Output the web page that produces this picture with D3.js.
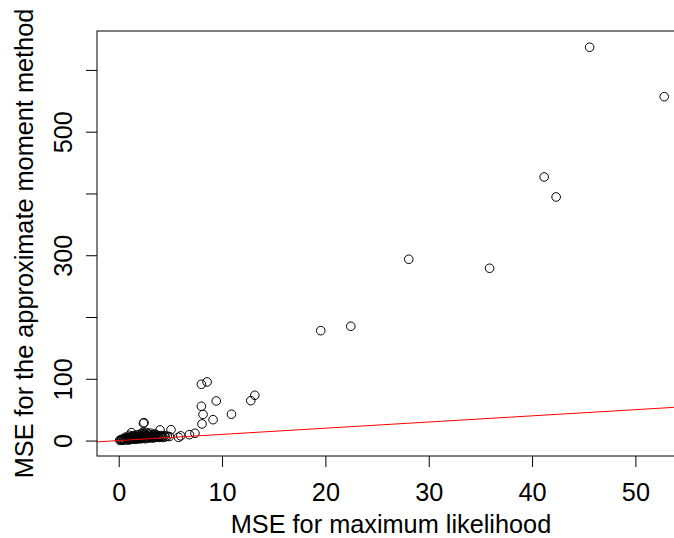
<!DOCTYPE html>
<html>
<head>
<meta charset="utf-8">
<script src="https://cdn.jsdelivr.net/npm/d3@7"></script>
<style>
  html, body { margin: 0; padding: 0; background: #fff; }
  svg { display: block; }
  text { font-family: "Liberation Sans", Arial, Helvetica, sans-serif; }
</style>
</head>
<body>
<div id="chart"></div>
<script>
// ---- data ----
const mleMSE = [
  45.57, 52.79, 41.17, 42.33, 28.07, 35.89, 22.46, 19.55,
  13.17, 12.78, 8.55, 8.00, 9.44, 8.00, 8.16, 9.13, 10.91, 8.06,
  7.38, 6.84, 5.78, 5.06, 4.00, 2.39, 2.45, 1.23, 6.00,
  0.10, 0.20, 0.30, 0.30, 0.40, 0.50, 0.50, 0.60, 0.70, 0.70,
  0.80, 0.90, 0.90, 1.00, 1.00, 1.10, 1.10, 1.20, 1.30, 1.30,
  1.40, 1.40, 1.50, 1.50, 1.60, 1.60, 1.70, 1.70, 1.80, 1.80,
  1.90, 1.90, 2.00, 2.00, 2.10, 2.10, 2.20, 2.20, 2.30, 2.30,
  2.40, 2.50, 2.50, 2.60, 2.60, 2.70, 2.70, 2.80, 2.80, 2.90,
  2.90, 3.00, 3.00, 3.10, 3.10, 3.20, 3.30, 3.30, 3.40, 3.50,
  3.50, 3.60, 3.70, 3.80, 3.90, 4.00, 4.10, 4.20, 4.30, 4.40,
  4.50, 4.70, 4.90, 2.25, 3.45, 1.05, 0.65
];
const momentMSE = [
  636.7, 556.7, 426.7, 394.3, 293.5, 278.9, 185.0, 177.9,
  73.3, 64.6, 94.9, 91.1, 64.1, 55.5, 42.3, 33.8, 42.6, 26.9,
  11.8, 9.6, 5.3, 17.6, 17.2, 28.0, 29.0, 12.8, 7.6,
  0.5, 1.0, 0.8, 2.0, 1.5, 1.0, 3.0, 2.0, 1.2, 4.0,
  2.5, 1.5, 5.0, 3.0, 1.0, 6.0, 2.0, 4.0, 2.5, 7.0,
  3.0, 5.0, 2.0, 8.0, 4.0, 6.0, 3.0, 9.0, 5.0, 2.5,
  7.0, 4.0, 3.0, 10.0, 6.0, 4.0, 8.0, 3.0, 5.0, 13.0,
  7.0, 4.0, 10.0, 6.0, 3.0, 8.0, 13.0, 5.0, 11.0, 7.0,
  4.0, 9.0, 6.0, 5.0, 12.0, 7.0, 4.0, 9.0, 6.0, 8.0,
  5.0, 10.0, 6.0, 7.0, 5.0, 8.0, 6.0, 7.0, 5.0, 8.0,
  6.0, 7.0, 6.5, 11.0, 10.5, 8.5, 5.5
];
const xTicks = [0, 10, 20, 30, 40, 50];
const yTicks = [0, 100, 200, 300, 400, 500, 600];
const yTickLabels = ["0", "100", "", "300", "", "500", ""];
const xLabel = "MSE for maximum likelihood";
const yLabel = "MSE for the approximate moment method";
const refLine = [{ intercept: 0, slope: 1 }];

// ---- layout ----
const W = 674, H = 538;
const box = { left: 97, right: 685, top: 31, bottom: 456 };
const points = mleMSE.map((v, i) => ({ x: v, y: momentMSE[i] }));

const x = d3.scaleLinear().domain([-2.1, 54.8]).range([box.left, box.right]);
const y = d3.scaleLinear().domain([-25, 663]).range([box.bottom, box.top]);

const svg = d3.select("#chart").append("svg")
  .attr("width", W).attr("height", H);

svg.append("defs").append("clipPath").attr("id", "plotclip")
  .append("rect")
  .attr("x", box.left).attr("y", box.top)
  .attr("width", box.right - box.left).attr("height", box.bottom - box.top);

// points
svg.append("g").selectAll("circle").data(points).join("circle")
  .attr("cx", d => x(d.x)).attr("cy", d => y(d.y))
  .attr("r", 4.3)
  .attr("fill", "none").attr("stroke", "#000").attr("stroke-width", 1);

// reference line y = x
const xd = x.domain();
svg.append("g").attr("clip-path", "url(#plotclip)")
  .selectAll("line").data(refLine).join("line")
  .attr("x1", x(xd[0])).attr("y1", d => y(d.intercept + d.slope * xd[0]))
  .attr("x2", x(xd[1])).attr("y2", d => y(d.intercept + d.slope * xd[1]))
  .attr("stroke", "#ff0000").attr("stroke-width", 1);

// box
svg.append("rect")
  .attr("x", box.left).attr("y", box.top)
  .attr("width", box.right - box.left).attr("height", box.bottom - box.top)
  .attr("fill", "none").attr("stroke", "#000").attr("stroke-width", 1);

// x axis
const gx = svg.append("g").attr("transform", `translate(0,${box.bottom})`)
  .call(d3.axisBottom(x).tickValues(xTicks).tickSize(11).tickPadding(16)
    .tickFormat(d3.format("d")));
gx.select(".domain").remove();
gx.selectAll(".tick line").attr("stroke", "#000");
gx.selectAll(".tick text").attr("font-size", 25.3).attr("fill", "#000")
  .attr("font-family", "Liberation Sans, Arial, sans-serif");

// y axis
const gy = svg.append("g").attr("transform", `translate(${box.left},0)`)
  .call(d3.axisLeft(y).tickValues(yTicks).tickSize(11)
    .tickFormat((d, i) => yTickLabels[i]));
gy.select(".domain").remove();
gy.selectAll(".tick line").attr("stroke", "#000");
gy.selectAll(".tick text")
  .attr("font-size", 25.3).attr("fill", "#000")
  .attr("font-family", "Liberation Sans, Arial, sans-serif")
  .attr("text-anchor", "middle")
  .attr("x", 0).attr("y", -25).attr("dy", 0)
  .attr("transform", "rotate(-90)");

// axis titles
svg.append("text")
  .attr("x", (box.left + box.right) / 2).attr("y", 533)
  .attr("text-anchor", "middle").attr("font-size", 25.3).attr("fill", "#000")
  .text(xLabel);

svg.append("text")
  .attr("transform", `translate(33,${(box.top + box.bottom) / 2}) rotate(-90)`)
  .attr("text-anchor", "middle").attr("font-size", 25.3).attr("fill", "#000")
  .text(yLabel);
</script>
</body>
</html>
